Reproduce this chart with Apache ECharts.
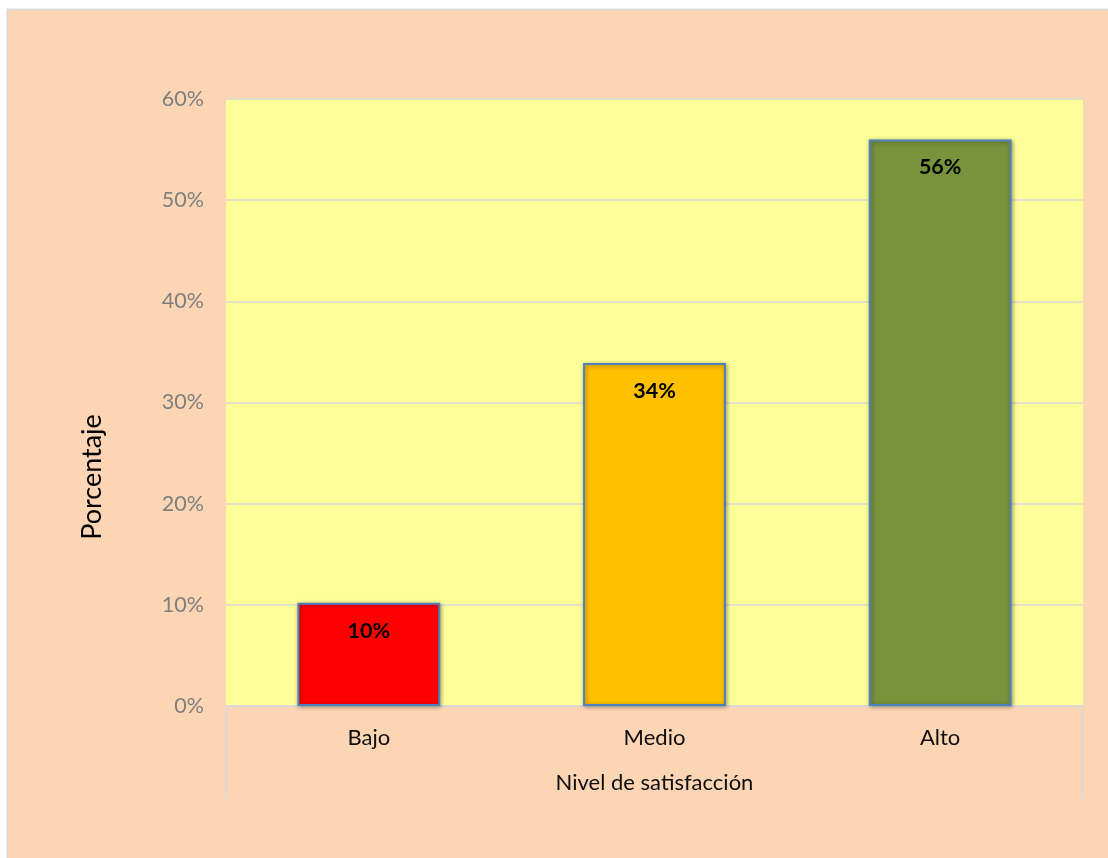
<!DOCTYPE html>
<html>
<head>
<meta charset="utf-8">
<title>Nivel de satisfacción</title>
<script src="https://cdn.jsdelivr.net/npm/echarts@6/dist/echarts.min.js"></script>
<style>
  html, body { margin: 0; padding: 0; background: #ffffff; }
  #chart { width: 1108px; height: 858px; }
</style>
</head>
<body>
<div id="chart"></div>
<script>
// Survey result: share of respondents per satisfaction level
const categories = ['Bajo', 'Medio', 'Alto'];
const percentages = [10.2, 33.9, 56.0];
const barColors = ['#FF0000', '#FFC000', '#77933C'];
const yTicks = [0, 10, 20, 30, 40, 50, 60];

const FONT = 'Lato, "Open Sans", sans-serif';
const GRID = { left: 226, top: 99, width: 857, height: 607 };
const gridBottom = GRID.top + GRID.height;

const chart = echarts.init(document.getElementById('chart'), null, { renderer: 'canvas' });

chart.setOption({
  backgroundColor: '#ffffff',
  animation: false,
  textStyle: { fontFamily: FONT },
  graphic: [
    // chart-area panel with thin grey frame on top/left
    { type: 'rect', z: -10, shape: { x: 7.5, y: 9.5, width: 1110, height: 860 },
      style: { fill: '#FCD5B4', stroke: '#D9D9D9', lineWidth: 2 } },
    // category table side borders under the plot
    { type: 'line', z: 5, shape: { x1: GRID.left + 0.5, y1: gridBottom, x2: GRID.left + 0.5, y2: 799 },
      style: { stroke: '#D9D9D9', lineWidth: 1.5 } },
    { type: 'line', z: 5, shape: { x1: GRID.left + GRID.width - 0.5, y1: gridBottom, x2: GRID.left + GRID.width - 0.5, y2: 799 },
      style: { stroke: '#D9D9D9', lineWidth: 1.5 } },
    // y axis title
    { type: 'text', z: 5, x: 92, y: 477, rotation: Math.PI / 2,
      style: { text: 'Porcentaje', font: '27px ' + FONT, fill: '#000000',
               align: 'center', verticalAlign: 'middle' } }
  ],
  grid: {
    left: GRID.left, top: GRID.top, width: GRID.width, height: GRID.height,
    show: true, backgroundColor: '#FFFF99', borderWidth: 0
  },
  xAxis: {
    type: 'category',
    data: categories,
    name: 'Nivel de satisfacción',
    nameLocation: 'middle',
    nameGap: 66,
    nameTextStyle: { fontSize: 22, color: '#0D0D0D', fontFamily: FONT },
    axisLine: { show: true, lineStyle: { color: '#D9D9D9', width: 1.5 } },
    axisTick: { show: false },
    axisLabel: { fontSize: 22, color: '#0D0D0D', margin: 21, fontFamily: FONT },
    splitLine: { show: false }
  },
  yAxis: {
    type: 'value',
    min: yTicks[0],
    max: yTicks[yTicks.length - 1],
    interval: yTicks[1] - yTicks[0],
    axisLine: { show: false },
    axisTick: { show: false },
    axisLabel: { formatter: '{value}%', fontSize: 21.5, color: '#7F7F7F', margin: 22, fontFamily: FONT },
    splitLine: { lineStyle: { color: '#D9D9D9', width: 1.5 } }
  },
  series: [{
    type: 'bar',
    barWidth: '50%',
    data: percentages.map((v, i) => ({
      value: v,
      itemStyle: { color: barColors[i] }
    })),
    itemStyle: {
      borderColor: '#4F81BD',
      borderWidth: 2,
      shadowColor: 'rgba(0,0,0,0.35)',
      shadowBlur: 4,
      shadowOffsetX: 1,
      shadowOffsetY: 1
    },
    label: {
      show: true,
      position: 'insideTop',
      distance: 17,
      formatter: p => Math.round(p.value) + '%',
      fontSize: 21.5,
      fontWeight: 'bold',
      color: '#000000',
      fontFamily: FONT
    }
  }]
});
</script>
</body>
</html>
